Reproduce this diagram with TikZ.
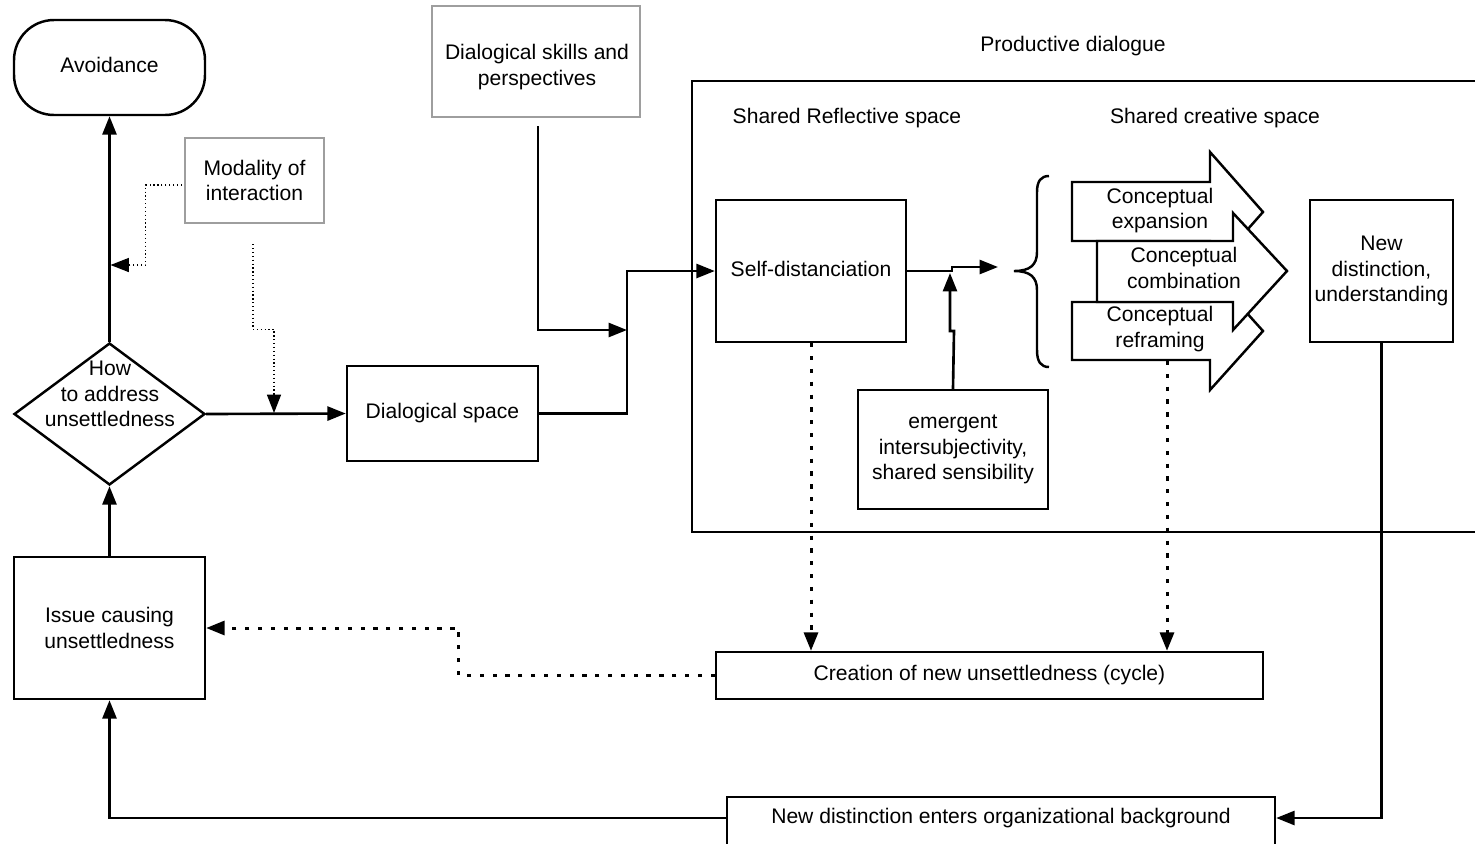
\documentclass[tikz,border=0pt]{standalone}
\usepackage{fontspec}
\setmainfont{Liberation Sans}
\usetikzlibrary{shapes.geometric,arrows.meta,calc}
\begin{document}
\begin{tikzpicture}[x=0.02cm,y=-0.02cm,
  every node/.style={font=\fontsize{12}{14.6}\selectfont, align=center, inner sep=0pt},
  box/.style={draw, line width=1.4pt, fill=white},
  gbox/.style={draw=black!38, line width=1.4pt, fill=white},
  conn/.style={line width=1.5pt},
  arr/.style={-{Triangle[length=10.5pt,width=8pt]}},
  dotl/.style={line width=1.7pt, dash pattern=on 2.4pt off 4.9pt},
  fine/.style={line width=0.8pt, dash pattern=on 0.7pt off 1.5pt},
  blockarrow/.style={draw, line width=1.4pt, fill=white, line join=miter}
]
\useasboundingbox (0,0) rectangle (1475,843);
\fill[white] (0,0) rectangle (1475,843);
\clip (0,0) rectangle (1475,843);

% container
\draw[line width=1.4pt] (692,81) rectangle (1530,532);
\node (pdlabel) at (1073,46) {Productive dialogue};
\node (srs) at (847,118) {Shared Reflective space};
\node (scs) at (1215,118) {Shared creative space};

% nodes
\node[box, rounded corners=0.8cm, minimum width=3.82cm, minimum height=1.9cm] (avoid) at (109.5,67.5) {};
\node (avoidtext) at (109.5,64.5) {Avoidance};
\node[gbox, minimum width=2.78cm, minimum height=1.7cm] (modal) at (254.5,180.5) {Modality of\\interaction};
\node[gbox, minimum width=4.16cm, minimum height=2.22cm] (skills) at (536,61.5) {};
\node (skillstext) at (537,67) {Dialogical skills and\\perspectives};
\node[box, diamond, minimum width=3.82cm, minimum height=2.84cm] (diam) at (109.5,414) {};
\node (diamtext) at (110,394) {How\\to address\\unsettledness};
\node[box, minimum width=3.82cm, minimum height=1.9cm] (dspace) at (442.5,413.5) {Dialogical space};
\node[box, minimum width=3.82cm, minimum height=2.84cm] (issue) at (109.5,628) {Issue causing\\unsettledness};
\node[box, minimum width=3.8cm, minimum height=2.84cm] (selfd) at (811,271) {};
\node (selfdtext) at (811,269) {Self-distanciation};
\node[box, minimum width=3.8cm, minimum height=2.38cm] (emerg) at (953,449.5) {emergent\\intersubjectivity,\\shared sensibility};
\node[box, minimum width=2.86cm, minimum height=2.84cm] (newd) at (1381.5,271) {New\\distinction,\\understanding};
\node[box, minimum width=10.94cm, minimum height=0.94cm] (creation) at (989.5,675.5) {Creation of new unsettledness (cycle)};
\node[box, anchor=north, minimum width=10.96cm, minimum height=2cm] (bgbox) at (1001,796) {};
\node (bgtext) at (1001,818) {New distinction enters organizational background};

% brace
\draw[line width=1.4pt] (1049,176) .. controls (1041,176) and (1037,181) .. (1037,192) -- (1037,252)
  .. controls (1037,265) and (1030,271) .. (1014,271)
  .. controls (1030,271) and (1037,277) .. (1037,290) -- (1037,350)
  .. controls (1037,362) and (1041,367) .. (1049,367);

% block arrows
\draw[blockarrow] (1072,182) -- (1210,182) -- (1210,152) -- (1263,212) -- (1210,272) -- (1210,241) -- (1072,241) -- cycle;
\draw[blockarrow] (1072,302) -- (1210,302) -- (1210,272) -- (1263,331) -- (1210,390) -- (1210,360) -- (1072,360) -- cycle;
\draw[blockarrow] (1097,241) -- (1233,241) -- (1233,213) -- (1287,271) -- (1233,330) -- (1233,302) -- (1097,302) -- cycle;
\node (expan) at (1160,210.5) {Conceptual\\expansion};
\node (combi) at (1184,268) {Conceptual\\combination};
\node (refra) at (1160,329) {Conceptual\\reframing};

% coordinates
\coordinate (mj) at (110.5,265);
\coordinate (mj2) at (274,413);
\coordinate (jx) at (627,271);
\coordinate (j2) at (627,330);
\coordinate (sdend) at (998,267);
\coordinate (emend) at (950,273);
\coordinate (rfb) at (1167,361);

% connectors
\draw[conn,arr] (diam.north) -- (avoid.south);
\draw[fine,arr] ($(modal.west)+(-2,4.5)$) -- ++(-36,0) |- (mj);
\draw[fine,arr] ($(modal.south)+(-1.5,20)$) -- ++(0,85) -| (mj2);
\draw[conn,arr] (diam.east) -- (dspace.west);
\draw[conn,arr] (dspace.east) -| (jx) -- (selfd.west);
\draw[conn,arr] ($(skills.south)+(2,8)$) |- (j2);
\draw[conn,arr] (selfd.east) -- (952,271) -- (952,267) -- (sdend);
\draw[conn,arr] (emerg.north) -- (954,331) -- (950,331) -- (emend);
\draw[dotl,arr] (selfd.south) -- (selfd.south |- creation.north);
\draw[dotl,arr] (rfb) -- (rfb |- creation.north);
\draw[dotl,arr] (creation.west) -- ++(-256,0) |- (issue.east);
\draw[conn,arr] (newd.south) |- (bgbox.east |- bgtext);
\draw[conn,arr] (bgbox.west |- bgtext) -| (issue.south);
\draw[conn,arr] (issue.north) -- (diam.south);
\end{tikzpicture}
\end{document}
